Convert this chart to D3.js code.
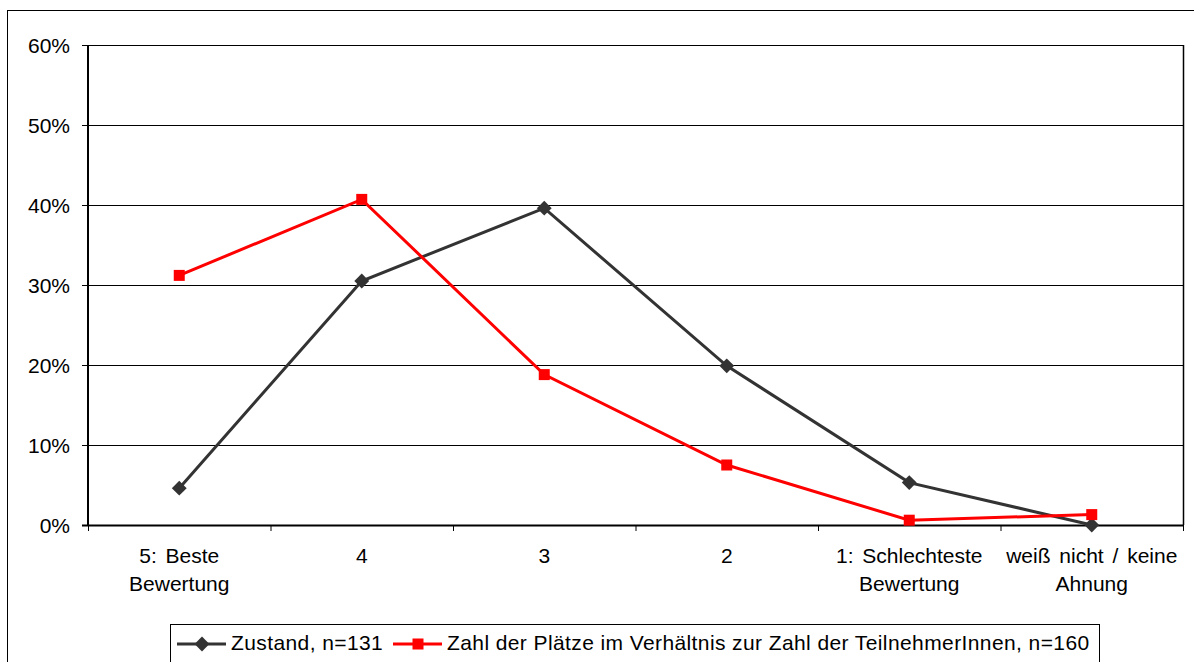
<!DOCTYPE html>
<html>
<head>
<meta charset="utf-8">
<script src="https://cdn.jsdelivr.net/npm/d3@7"></script>
<style>
  body { margin: 0; background: #fff; }
  text { font-family: "Liberation Sans", Arial, sans-serif; fill: #000; }
</style>
</head>
<body>
<svg id="chart" width="1194" height="662"></svg>
<script>
// categories and values (percent)
const categories = ["5: Beste|Bewertung", "4", "3", "2", "1: Schlechteste|Bewertung", "weiß nicht / keine|Ahnung"];
const zustand = [4.6, 30.5, 39.6, 19.9, 5.3, 0];
const plaetze = [31.2, 40.7, 18.8, 7.5, 0.6, 1.3];
const yTicks = [0, 10, 20, 30, 40, 50, 60];
const seriesNames = ["Zustand, n=131", "Zahl der Plätze im Verhältnis zur Zahl der TeilnehmerInnen, n=160"];

let svg = d3.select("#chart");

const plotLeft = 88, plotRight = 1183, plotTop = 45, plotBottom = 525;
const fontSize = "21px";

// outer frame
svg.append("rect")
    .attr("x", 7.5).attr("y", 10.5)
    .attr("width", 1200).attr("height", 700)
    .attr("fill", "none").attr("stroke", "#000").attr("stroke-width", 1);

let xScale = d3.scaleBand().domain(categories).range([plotLeft, plotRight]);
let yScale = d3.scaleLinear().domain([0, 60]).range([plotBottom, plotTop]);

// gridlines
svg.append("g")
    .selectAll("line")
    .data(yTicks)
    .enter().append("line")
    .attr("x1", plotLeft).attr("x2", plotRight)
    .attr("y1", d => yScale(d) + 0.5).attr("y2", d => yScale(d) + 0.5)
    .attr("stroke", "#000").attr("stroke-width", 1);

// right border
svg.append("line")
    .attr("x1", plotRight + 0.5).attr("x2", plotRight + 0.5)
    .attr("y1", plotTop).attr("y2", plotBottom)
    .attr("stroke", "#000").attr("stroke-width", 1.5);

// y axis
let y_axis = d3.axisLeft(yScale).tickValues(yTicks).tickSize(6).tickPadding(12)
    .tickFormat(d => d + "%");
let yAxis = svg.append("g")
    .attr("transform", `translate(${plotLeft},0)`)
    .call(y_axis);
yAxis.select(".domain").remove();
yAxis.selectAll(".tick line").attr("stroke", "#000");
yAxis.attr("font-family", null).attr("font-size", null);
yAxis.selectAll("text").style("font-size", fontSize).attr("dy", "0.36em");
yAxis.append("line")
    .attr("x1", 0).attr("x2", 0).attr("y1", plotTop).attr("y2", plotBottom + 1)
    .attr("stroke", "#000").attr("stroke-width", 2);

// x axis (ticks at band edges)
let xg = svg.append("g");
xg.append("line")
    .attr("x1", plotLeft - 6).attr("x2", plotRight + 1)
    .attr("y1", plotBottom + 0.5).attr("y2", plotBottom + 0.5)
    .attr("stroke", "#000").attr("stroke-width", 2);
let edges = categories.map(c => xScale(c)).concat([plotRight]);
xg.selectAll(".xt")
    .data(edges)
    .enter().append("line")
    .attr("class", "xt")
    .attr("x1", d => d + 0.5).attr("x2", d => d + 0.5)
    .attr("y1", plotBottom).attr("y2", plotBottom + 6)
    .attr("stroke", "#000");
xg.selectAll(".xl")
    .data(categories)
    .enter().append("text")
    .attr("class", "xl")
    .attr("text-anchor", "middle")
    .style("font-size", fontSize)
    .style("word-spacing", "3px")
    .each(function (d) {
        let parts = d.split("|");
        let t = d3.select(this);
        parts.forEach((p, i) => {
            t.append("tspan")
                .attr("x", xScale(d) + xScale.bandwidth() / 2)
                .attr("y", 563 + i * 28)
                .text(p);
        });
    });

// lines
let line = d3.line()
    .x((d, i) => xScale(categories[i]) + xScale.bandwidth() / 2)
    .y(d => yScale(d));

svg.append("path").datum(zustand)
    .attr("d", line).attr("fill", "none")
    .attr("stroke", "#333").attr("stroke-width", 3);
svg.append("path").datum(plaetze)
    .attr("d", line).attr("fill", "none")
    .attr("stroke", "#f00").attr("stroke-width", 3);

const diamond = d3.symbol().type(d3.symbolSquare).size(110);
svg.append("g").selectAll("path")
    .data(zustand)
    .enter().append("path")
    .attr("d", diamond)
    .attr("transform", (d, i) => `translate(${xScale(categories[i]) + xScale.bandwidth() / 2},${yScale(d)}) rotate(45)`)
    .attr("fill", "#333");
svg.append("g").selectAll("rect")
    .data(plaetze)
    .enter().append("rect")
    .attr("x", (d, i) => xScale(categories[i]) + xScale.bandwidth() / 2 - 5.5)
    .attr("y", d => yScale(d) - 5.5)
    .attr("width", 11).attr("height", 11)
    .attr("fill", "#f00");

// legend
let legend = svg.append("g");
legend.append("rect")
    .attr("x", 170.5).attr("y", 624.5)
    .attr("width", 929).attr("height", 60)
    .attr("fill", "#fff").attr("stroke", "#000");
let items = [
    { x: 177, color: "#333", name: seriesNames[0], shape: "diamond" },
    { x: 393, color: "#f00", name: seriesNames[1], shape: "square" }
];
items.forEach(it => {
    legend.append("line")
        .attr("x1", it.x).attr("x2", it.x + 49)
        .attr("y1", 644).attr("y2", 644)
        .attr("stroke", it.color).attr("stroke-width", 3);
    if (it.shape === "diamond") {
        legend.append("path").attr("d", diamond)
            .attr("transform", `translate(${it.x + 25},644) rotate(45)`)
            .attr("fill", it.color);
    } else {
        legend.append("rect")
            .attr("x", it.x + 19.5).attr("y", 638.5)
            .attr("width", 11).attr("height", 11)
            .attr("fill", it.color);
    }
    legend.append("text")
        .attr("x", it.x + 54).attr("y", 650)
        .style("font-size", fontSize)
        .style("letter-spacing", "0.4px")
        .text(it.name);
});
</script>
</body>
</html>
